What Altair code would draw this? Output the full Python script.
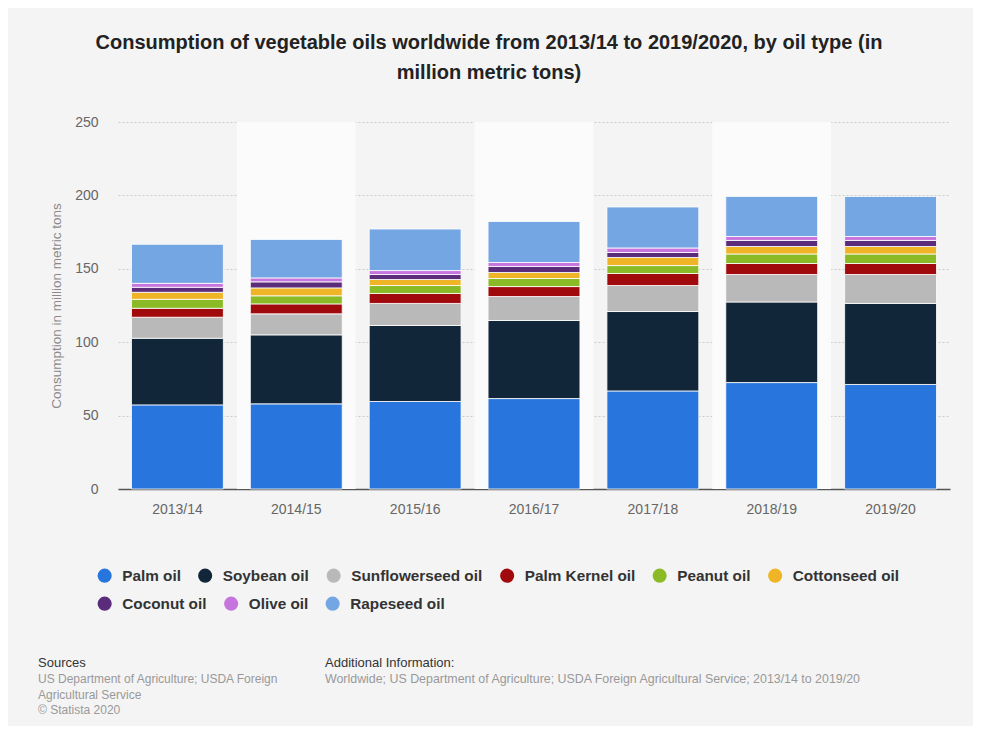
import altair as alt
import pandas as pd

years = ["2013/14", "2014/15", "2015/16", "2016/17", "2017/18", "2018/19", "2019/20"]
oils = ["Palm oil", "Soybean oil", "Sunflowerseed oil", "Palm Kernel oil", "Peanut oil",
        "Cottonseed oil", "Coconut oil", "Olive oil", "Rapeseed oil"]
colors = ["#2876dd", "#12263a", "#b9b9b9", "#a10a0c", "#8aba26",
          "#efb526", "#5a2c7a", "#c775de", "#75a6e4"]

palm = [57.3, 58.0, 59.6, 61.6, 66.8, 72.5, 71.2]
soybean = [45.4, 47.0, 51.8, 53.2, 54.1, 54.9, 55.2]
sunflower = [14.3, 14.3, 15.0, 16.3, 17.7, 18.7, 19.7]
palm_kernel = [6.1, 6.8, 6.8, 6.8, 8.2, 7.5, 7.5]
peanut = [6.1, 5.5, 5.4, 5.5, 5.4, 6.5, 6.5]
cottonseed = [4.8, 5.4, 4.1, 4.1, 5.5, 5.1, 5.1]
coconut = [3.4, 4.1, 3.4, 4.1, 3.4, 4.1, 4.1]
olive = [2.7, 2.7, 2.7, 2.7, 3.1, 2.7, 2.7]
rapeseed = [26.6, 26.2, 28.3, 27.9, 27.9, 27.3, 27.3]

band_years = ["2014/15", "2016/17", "2018/19"]

title_lines = ["Consumption of vegetable oils worldwide from 2013/14 to 2019/2020, by oil type (in",
               "million metric tons)"]
y_title = "Consumption in million metric tons"
sources_head = "Sources"
sources_lines = ["US Department of Agriculture; USDA Foreign", "Agricultural Service", "© Statista 2020"]
info_head = "Additional Information:"
info_lines = ["Worldwide; US Department of Agriculture; USDA Foreign Agricultural Service; 2013/14 to 2019/20"]

FONT = "Liberation Sans"
W, H = 832, 367

series = [palm, soybean, sunflower, palm_kernel, peanut, cottonseed, coconut, olive, rapeseed]
rows = []
for i, (oil, vals) in enumerate(zip(oils, series)):
    for y, v in zip(years, vals):
        rows.append({"year": y, "oil": oil, "value": v, "idx": i})
df = pd.DataFrame(rows)

bands_df = pd.DataFrame({"year": band_years})

bands = alt.Chart(bands_df).mark_rect(color="#fbfbfb").encode(
    x=alt.X("year:N", scale=alt.Scale(domain=years, paddingInner=0, paddingOuter=0), axis=None),
    y=alt.value(0),
    y2=alt.value(H),
)

x_scale = alt.Scale(domain=years, paddingInner=0.227, paddingOuter=0.1135)
x_axis = alt.Axis(title=None, labelAngle=0, labelFont=FONT, labelFontSize=14,
                  labelColor="#666666", labelPadding=13, ticks=False,
                  domainColor="#555555", domainWidth=1.5)
y_axis = alt.Axis(values=[0, 50, 100, 150, 200, 250], title=y_title,
                  titleFont=FONT, titleFontSize=13.5, titleFontWeight="normal",
                  titleColor="#8a8a8a", titlePadding=11,
                  labelFont=FONT, labelFontSize=14, labelColor="#666666",
                  labelPadding=20, ticks=False, domain=False,
                  grid=True, gridColor="#cccccc", gridDash=[2, 2], gridWidth=1)


def legend_for(y_pos):
    return alt.Legend(orient="none", legendX=-21, legendY=y_pos,
                      direction="horizontal", title=None, symbolType="circle",
                      symbolSize=200, symbolStrokeWidth=0, symbolOpacity=1,
                      labelFont=FONT, labelFontSize=15.3, labelFontWeight="bold",
                      labelColor="#333333", labelOffset=10, columnPadding=16.5)


stacked = alt.Chart(df).transform_stack(
    stack="value", as_=["y0", "y1"], groupby=["year"],
    sort=[alt.SortField("idx", order="ascending")],
)

bars_a = stacked.transform_filter(
    alt.FieldOneOfPredicate(field="oil", oneOf=oils[:6])
).mark_bar(stroke="#ffffff", strokeWidth=1, strokeOpacity=0.8).encode(
    x=alt.X("year:N", sort=years, scale=x_scale, axis=x_axis),
    y=alt.Y("y0:Q", scale=alt.Scale(domain=[0, 250]), axis=y_axis),
    y2="y1:Q",
    color=alt.Color("oil:N", scale=alt.Scale(domain=oils[:6], range=colors[:6]),
                    legend=legend_for(446)),
)

bars_b = stacked.transform_filter(
    alt.FieldOneOfPredicate(field="oil", oneOf=oils[6:])
).mark_bar(stroke="#ffffff", strokeWidth=1, strokeOpacity=0.8).encode(
    x=alt.X("year:N", sort=years, scale=x_scale, axis=None),
    y=alt.Y("y0:Q", scale=alt.Scale(domain=[0, 250])),
    y2="y1:Q",
    color=alt.Color("oil:N", scale=alt.Scale(domain=oils[6:], range=colors[6:]),
                    legend=legend_for(474)),
)

one = pd.DataFrame({"a": [0]})

src_head = alt.Chart(one).mark_text(text=sources_head, align="left", baseline="alphabetic",
                                    font=FONT, fontSize=13, color="#333333").encode(
    x=alt.value(-80), y=alt.value(545))
src_body = alt.Chart(one).mark_text(text=sources_lines, align="left", baseline="alphabetic",
                                    font=FONT, fontSize=12, color="#999999", lineHeight=15.5).encode(
    x=alt.value(-80), y=alt.value(561))
inf_head = alt.Chart(one).mark_text(text=info_head, align="left", baseline="alphabetic",
                                    font=FONT, fontSize=13, color="#333333").encode(
    x=alt.value(207), y=alt.value(545))
inf_body = alt.Chart(one).mark_text(text=info_lines, align="left", baseline="alphabetic",
                                    font=FONT, fontSize=12.4, color="#999999").encode(
    x=alt.value(207), y=alt.value(561))

chart = alt.layer(bands, bars_a, bars_b, src_head, src_body, inf_head, inf_body).resolve_scale(
    x="independent", color="independent"
).resolve_legend(color="independent").properties(
    width=W, height=H,
    title=alt.TitleParams(text=title_lines, font=FONT, fontSize=20, fontWeight="bold",
                          color="#222222", anchor="middle", dx=-45, offset=32, lineHeight=30),
    autosize=alt.AutoSizeParams(type="none"),
    padding={"left": 110, "top": 114, "right": 23, "bottom": 237},
).configure(background="#f4f4f4").configure_view(stroke=None, fill="#f4f4f4")

chart.save("out.html", embed_options={"renderer": "svg", "actions": False})
